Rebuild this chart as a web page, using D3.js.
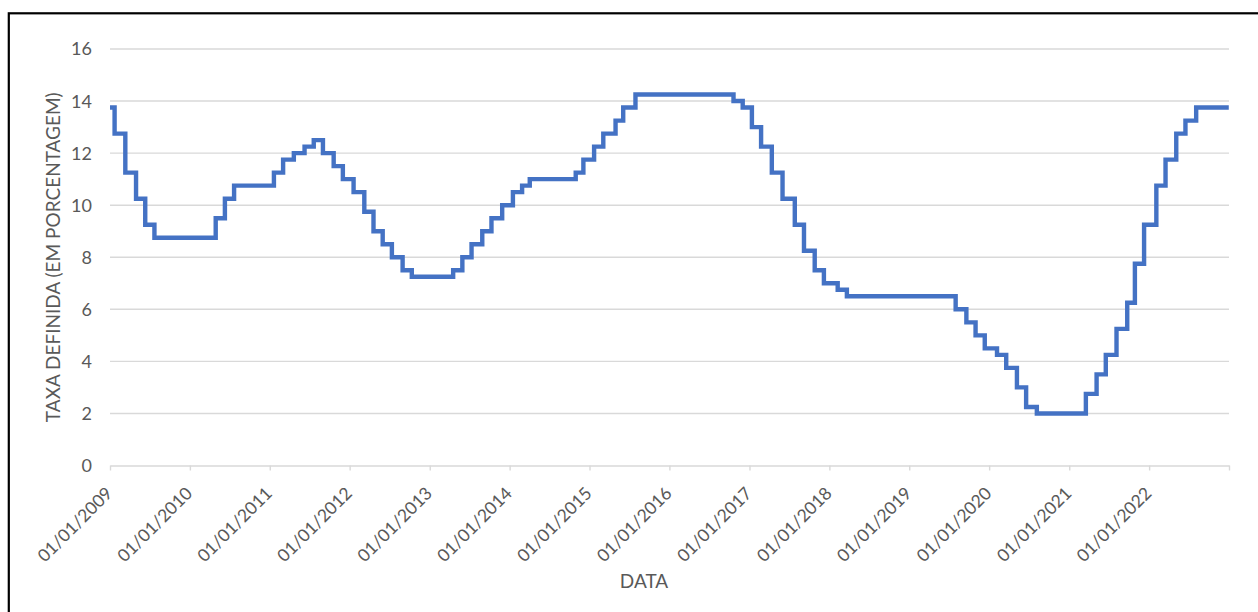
<!DOCTYPE html>
<html>
<head>
<meta charset="utf-8">
<script src="https://cdn.jsdelivr.net/npm/d3@7"></script>
<style>
  html, body { margin: 0; padding: 0; background: #fff; overflow: hidden; }
  svg { display: block; }
  text { font-family: Lato, "Open Sans", sans-serif; fill: #595959; }
</style>
</head>
<body>
<svg id="chart" width="1258" height="612"></svg>
<script>
// Meta Selic: start date of each rate and the rate in effect (% a.a.)
const changeDates = [
  "2009-01-01","2009-01-22","2009-03-12","2009-04-30","2009-06-11","2009-07-23",
  "2010-04-29","2010-06-10","2010-07-22",
  "2011-01-20","2011-03-03","2011-04-21","2011-06-09","2011-07-21","2011-09-01","2011-10-20","2011-12-01",
  "2012-01-19","2012-03-08","2012-04-19","2012-05-31","2012-07-12","2012-08-30","2012-10-11",
  "2013-04-18","2013-05-30","2013-07-11","2013-08-29","2013-10-10","2013-11-28",
  "2014-01-16","2014-02-27","2014-04-03","2014-10-30","2014-12-04",
  "2015-01-22","2015-03-05","2015-04-30","2015-06-04","2015-07-30",
  "2016-10-20","2016-12-01",
  "2017-01-12","2017-02-23","2017-04-13","2017-06-01","2017-07-27","2017-09-07","2017-10-26","2017-12-07",
  "2018-02-08","2018-03-22",
  "2019-08-01","2019-09-19","2019-10-31","2019-12-12",
  "2020-02-06","2020-03-19","2020-05-07","2020-06-18","2020-08-06",
  "2021-03-18","2021-05-06","2021-06-17","2021-08-05","2021-09-23","2021-10-28","2021-12-09",
  "2022-02-03","2022-03-17","2022-05-05","2022-06-16","2022-08-04","2022-12-31"
];
const rates = [
  13.75, 12.75, 11.25, 10.25, 9.25, 8.75,
  9.50, 10.25, 10.75,
  11.25, 11.75, 12.00, 12.25, 12.50, 12.00, 11.50, 11.00,
  10.50, 9.75, 9.00, 8.50, 8.00, 7.50, 7.25,
  7.50, 8.00, 8.50, 9.00, 9.50, 10.00,
  10.50, 10.75, 11.00, 11.25, 11.75,
  12.25, 12.75, 13.25, 13.75, 14.25,
  14.00, 13.75,
  13.00, 12.25, 11.25, 10.25, 9.25, 8.25, 7.50, 7.00,
  6.75, 6.50,
  6.00, 5.50, 5.00, 4.50,
  4.25, 3.75, 3.00, 2.25, 2.00,
  2.75, 3.50, 4.25, 5.25, 6.25, 7.75, 9.25,
  10.75, 11.75, 12.75, 13.25, 13.75, 13.75
];
const yTicks = [0, 2, 4, 6, 8, 10, 12, 14, 16];
const yearTicks = [2009, 2010, 2011, 2012, 2013, 2014, 2015, 2016, 2017, 2018, 2019, 2020, 2021, 2022, 2023];
const labelledYears = [2009, 2010, 2011, 2012, 2013, 2014, 2015, 2016, 2017, 2018, 2019, 2020, 2021, 2022];
const yTitle = "TAXA DEFINIDA (EM PORCENTAGEM)";
const xTitle = "DATA";

const parse = d3.utcParse("%Y-%m-%d");
const fmt = d3.utcFormat("%d/%m/%Y");
const series = changeDates.map((d, i) => ({ date: parse(d), rate: rates[i] }));

const svg = d3.select("#chart");

// chart frame
svg.append("rect")
  .attr("x", 8.8).attr("y", 13.3)
  .attr("width", 1400).attr("height", 800)
  .attr("fill", "none").attr("stroke", "#000").attr("stroke-width", 2.2);

const x = d3.scaleUtc()
  .domain([new Date(Date.UTC(2009, 0, 1)), new Date(Date.UTC(2023, 0, 1))])
  .range([110, 1229]);
const y = d3.scaleLinear().domain([0, 16]).range([465.5, 49]);

// horizontal gridlines
svg.append("g").selectAll("line")
  .data(yTicks.filter(v => v > 0))
  .join("line")
  .attr("x1", x.range()[0]).attr("x2", x.range()[1])
  .attr("y1", d => y(d)).attr("y2", d => y(d))
  .attr("stroke", "#d9d9d9").attr("stroke-width", 1.4);

// y tick labels
svg.append("g").selectAll("text")
  .data(yTicks)
  .join("text")
  .attr("x", 92).attr("y", d => y(d))
  .attr("dy", "0.36em")
  .attr("text-anchor", "end")
  .style("font-size", "18px")
  .text(d => d);

// x axis
const tickDates = yearTicks.map(yr => new Date(Date.UTC(yr, 0, 1)));
const xAxis = d3.axisBottom(x)
  .tickValues(tickDates)
  .tickSize(5)
  .tickSizeOuter(0)
  .tickFormat(d => labelledYears.includes(d.getUTCFullYear()) ? fmt(d) : "");
const gx = svg.append("g").attr("transform", `translate(0,${y(0)})`).call(xAxis);
gx.select(".domain").attr("stroke", "#d9d9d9").attr("stroke-width", 1.4);
gx.selectAll(".tick line").attr("stroke", "#d9d9d9").attr("stroke-width", 1.4);
gx.selectAll(".tick text")
  .attr("fill", "#595959")
  .style("font-family", "Lato, 'Open Sans', sans-serif")
  .style("font-size", "17.5px")
  .attr("text-anchor", "end")
  .attr("dy", 0).attr("y", 0)
  .attr("transform", "translate(3,29) rotate(-45)");

// rate line
const line = d3.line()
  .x(d => x(d.date))
  .y(d => y(d.rate))
  .curve(d3.curveStepAfter);
svg.append("path")
  .datum(series)
  .attr("d", line)
  .attr("fill", "none")
  .attr("stroke", "#4472C4")
  .attr("stroke-width", 4.4)
  .attr("stroke-linejoin", "miter");

// axis titles
svg.append("text")
  .attr("transform", `translate(60,${(y(0) + y(16)) / 2}) rotate(-90)`)
  .attr("text-anchor", "middle")
  .style("font-size", "19px")
  .text(yTitle);

svg.append("text")
  .attr("x", 644).attr("y", 588)
  .attr("text-anchor", "middle")
  .style("font-size", "19px")
  .text(xTitle);
</script>
</body>
</html>
